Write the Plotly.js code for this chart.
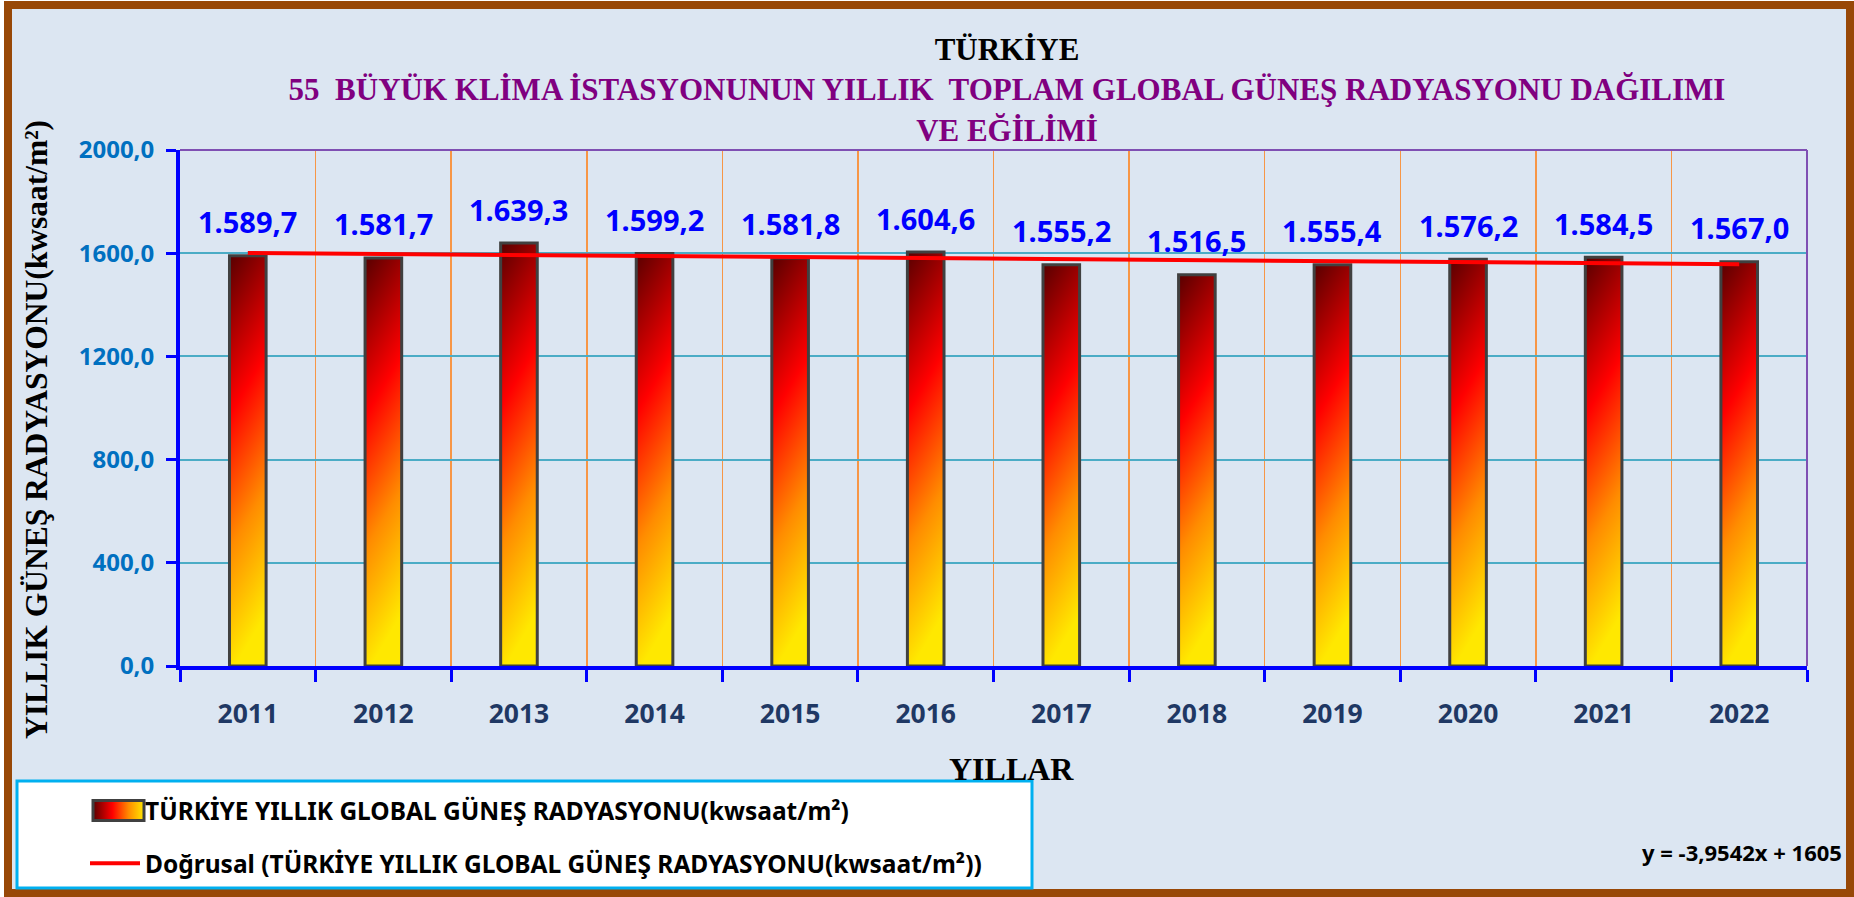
<!DOCTYPE html>
<html>
<head>
<meta charset="utf-8">
<script src="https://cdn.plot.ly/plotly-3.0.1.min.js"></script>
<style>
  html, body { margin: 0; padding: 0; background: #ffffff; }
  #chart { width: 1854px; height: 897px; }
</style>
</head>
<body>
<div id="chart"></div>
<script>
// ---------------- DATA ----------------
const years = ['2011','2012','2013','2014','2015','2016','2017','2018','2019','2020','2021','2022'];
const radiation = [1589.7, 1581.7, 1639.3, 1599.2, 1581.8, 1604.6, 1555.2, 1516.5, 1555.4, 1576.2, 1584.5, 1567.0];
const trendYears = ['2011', '2022'];
const trendValues = [1601.0, 1557.5];
const yTickValues = [0, 400, 800, 1200, 1600, 2000];

const barName = 'TÜRKİYE YILLIK GLOBAL GÜNEŞ RADYASYONU(kwsaat/m²)';
const trendName = 'Doğrusal (TÜRKİYE YILLIK GLOBAL GÜNEŞ RADYASYONU(kwsaat/m²))';
const titleLines = ['TÜRKİYE', '55  BÜYÜK KLİMA İSTASYONUNUN YILLIK  TOPLAM GLOBAL GÜNEŞ RADYASYONU DAĞILIMI', 'VE EĞİLİMİ'];
const yTitle = 'YILLIK GÜNEŞ RADYASYONU(kwsaat/m²)';
const xTitle = 'YILLAR';
const equationText = 'y = -3,9542x + 1605';

// ---------------- LAYOUT HELPERS ----------------
const W = 1854, H = 897;
const M = { l: 180, r: 47, t: 150, b: 231 };
const PW = W - M.l - M.r, PH = H - M.t - M.b;
const px2x = px => (px - M.l) / PW;
const py2y = py => (H - M.b - py) / PH;

function fmtTR(v) {
  const s = v.toFixed(1).replace('.', ',');
  return s.replace(/^(\d)(\d{3})/, '$1.$2');
}

const SANS = '"Noto Sans", "Open Sans", sans-serif';
const SERIF = '"Liberation Serif", "Times New Roman", serif';

const barTrace = {
  type: 'bar',
  x: years,
  y: radiation,
  name: barName,
  width: 0.27,
  legendgroup: 'a',
  marker: { color: '#FF3A00', line: { color: '#404040', width: 3 } },
  hoverinfo: 'skip'
};

const trendTrace = {
  type: 'scatter',
  mode: 'lines',
  x: trendYears,
  y: trendValues,
  name: trendName,
  legendgroup: 'b',
  line: { color: '#FF0000', width: 4 },
  hoverinfo: 'skip'
};

// category index positions (annotations on category axes take the index)
const labelAnnotations = years.map((yr, i) => ({
  x: i, y: radiation[i], xref: 'x', yref: 'y',
  text: fmtTR(radiation[i]),
  showarrow: false, yanchor: 'middle', yshift: 34,
  font: { family: SANS, size: 29, color: '#0000FF', weight: 'bold' }
}));

const layout = {
  width: W, height: H,
  margin: { l: M.l, r: M.r, t: M.t, b: M.b, autoexpand: false },
  paper_bgcolor: '#FFFFFF',
  plot_bgcolor: '#FFFFFF',
  separators: ',.',
  showlegend: true,
  title: {
    text: '<span style="color:#000000">' + titleLines[0] + '</span><br>' + titleLines[1] + '<br>' + titleLines[2],
    font: { family: SERIF, size: 31, color: '#800080', weight: 'bold' },
    x: 1007 / W, xref: 'container', xanchor: 'center',
    y: 1 - 60 / H, yref: 'container', yanchor: 'top'
  },
  xaxis: {
    type: 'category',
    categoryorder: 'array', categoryarray: years,
    range: [-0.5, years.length - 0.5],
    tickson: 'boundaries',
    tickangle: 0,
    showgrid: true, gridcolor: '#F79646', gridwidth: 1.5,
    showline: true, linecolor: '#0000FF', linewidth: 4,
    ticks: 'outside', ticklen: 12, tickwidth: 3, tickcolor: '#0000FF',
    ticklabelstandoff: 21,
    tickfont: { family: SANS, size: 26.5, color: '#1F3864', weight: 'bold' },
    automargin: false,
    zeroline: false
  },
  yaxis: {
    range: [0, 2000],
    tickvals: yTickValues,
    tickformat: '.1f',
    showgrid: true, gridcolor: '#4BACC6', gridwidth: 2,
    showline: true, linecolor: '#0000FF', linewidth: 4,
    ticks: 'outside', ticklen: 10, tickwidth: 3, tickcolor: '#0000FF',
    ticklabelstandoff: 7,
    tickfont: { family: SANS, size: 24, color: '#0070C0', weight: 'bold' },
    automargin: false,
    zeroline: false
  },
  legend: {
    x: px2x(85), xanchor: 'left',
    y: py2y(788), yanchor: 'top',
    bgcolor: 'rgba(0,0,0,0)', borderwidth: 0,
    traceorder: 'grouped', tracegroupgap: 18,
    itemwidth: 50,
    font: { family: SANS, size: 24.5, color: '#000000', weight: 'bold' }
  },
  shapes: [
    { type: 'rect', xref: 'paper', yref: 'paper', layer: 'below',
      x0: px2x(8), x1: px2x(1850), y0: py2y(893), y1: py2y(5),
      fillcolor: '#DCE6F2', line: { color: '#984807', width: 8 } },
    { type: 'line', xref: 'paper', yref: 'paper', layer: 'above',
      x0: 0, x1: 1, y0: 1, y1: 1, line: { color: '#7F4FB3', width: 2 } },
    { type: 'line', xref: 'paper', yref: 'paper', layer: 'above',
      x0: 1, x1: 1, y0: 0, y1: 1, line: { color: '#7F4FB3', width: 2 } },
    { type: 'rect', xref: 'paper', yref: 'paper', layer: 'above',
      x0: px2x(17), x1: px2x(1032), y0: py2y(888), y1: py2y(781),
      fillcolor: '#FFFFFF', line: { color: '#00B0F0', width: 3 } }
  ],
  annotations: labelAnnotations.concat([
    { xref: 'paper', yref: 'paper', x: px2x(1844), y: py2y(852),
      xanchor: 'right', yanchor: 'middle', showarrow: false,
      text: equationText,
      font: { family: SANS, size: 22, color: '#000000', weight: 'bold' } },
    // y axis title
    { xref: 'paper', yref: 'paper', x: px2x(36), y: py2y(430),
      xanchor: 'center', yanchor: 'middle', showarrow: false, textangle: -90,
      text: yTitle,
      font: { family: SERIF, size: 31.5, color: '#000000', weight: 'bold' } },
    // x axis title
    { xref: 'paper', yref: 'paper', x: px2x(1011), y: py2y(769),
      xanchor: 'center', yanchor: 'middle', showarrow: false,
      text: xTitle,
      font: { family: SERIF, size: 32, color: '#000000', weight: 'bold' } }
  ])
};

Plotly.newPlot('chart', [barTrace, trendTrace], layout, { staticPlot: true, displayModeBar: false }).then(gd => {
  const ns = 'http://www.w3.org/2000/svg';
  const svg = gd.querySelector('.main-svg');
  let defs = svg.querySelector('defs');
  if (!defs) { defs = document.createElementNS(ns, 'defs'); svg.insertBefore(defs, svg.firstChild); }
  function makeGrad(id, x2, y2) {
    const lg = document.createElementNS(ns, 'linearGradient');
    lg.setAttribute('id', id);
    lg.setAttribute('x1', '0'); lg.setAttribute('y1', '0');
    lg.setAttribute('x2', x2); lg.setAttribute('y2', y2);
    [['0', '#580000'], ['0.38', '#FF0000'], ['0.7', '#FF8C00'], ['1', '#FFE800']].forEach(([o, c]) => {
      const st = document.createElementNS(ns, 'stop');
      st.setAttribute('offset', o); st.setAttribute('stop-color', c);
      lg.appendChild(st);
    });
    defs.appendChild(lg);
  }
  makeGrad('barGradV', '0.15', '1');
  makeGrad('barGradH', '1', '0');
  gd.querySelectorAll('.barlayer .point path').forEach(p => { p.style.fill = 'url(#barGradV)'; });

  // legend glyphs: widen to match the reference key (page x 93..144)
  const items = gd.querySelectorAll('.legend .traces');
  items.forEach((it, k) => {
    const lp = it.querySelector('.legendpoints');
    if (!lp) return;
    lp.querySelectorAll('path').forEach(p => {
      const ctm = p.getCTM();
      const x0 = 93 - ctm.e, x1 = 144 - ctm.e;
      if (k === 0) {
        p.setAttribute('d', `M${x1},10H${x0}V-10H${x1}Z`);
        p.style.fill = 'url(#barGradH)';
        p.style.stroke = '#404040';
        p.style.strokeWidth = '3px';
      } else {
        p.setAttribute('d', `M${x0},0H${x1}`);
      }
    });
  });
});
</script>
</body>
</html>
